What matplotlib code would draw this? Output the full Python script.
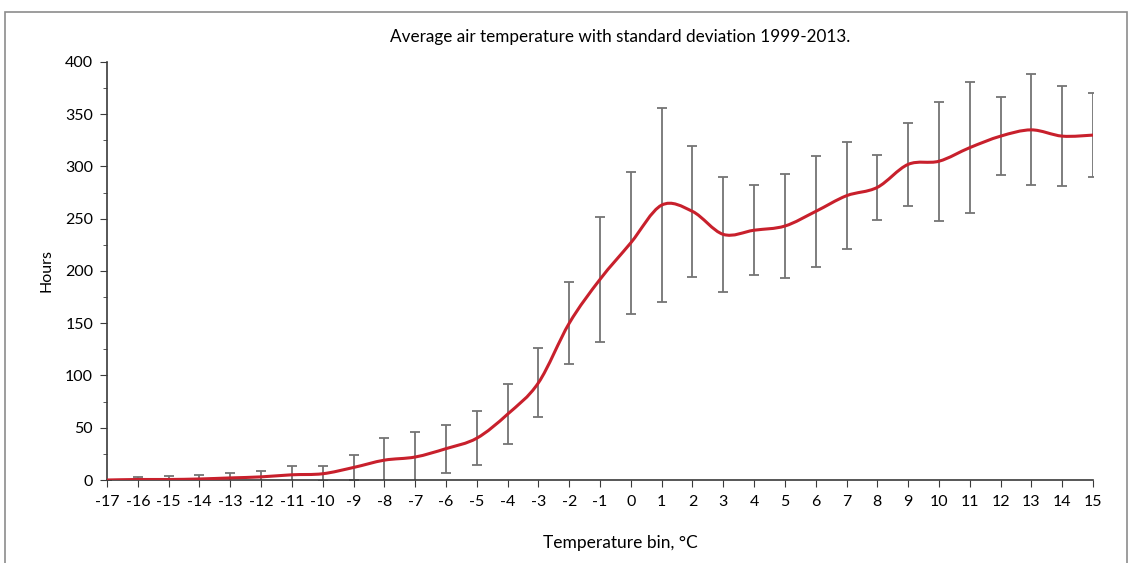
import numpy as np
import matplotlib
matplotlib.use("Agg")
import matplotlib.pyplot as plt
from matplotlib.path import Path
from matplotlib.patches import PathPatch, Rectangle
from matplotlib.ticker import MultipleLocator

plt.rcParams['font.family'] = ['Lato', 'DejaVu Sans']

# temperature bins (deg C)
bins = list(range(-17, 16))
# mean hours per bin
hours = [0, 0.5, 0.5, 1, 2, 3, 5, 6, 12, 19, 22, 30, 40, 63, 93, 150, 192,
         227, 263, 257, 235, 239, 243, 257, 272, 280, 302, 305, 318, 329, 335, 329, 330]
# standard deviation per bin
std = [0, 2, 3, 4, 5, 6, 8, 7, 12, 21, 24, 23, 26, 29, 33, 39, 60,
       68, 93, 63, 55, 43, 50, 53, 51, 31, 40, 57, 63, 37, 53, 48, 40]

fig = plt.figure(figsize=(11.3, 5.63), dpi=100)
ax = fig.add_axes([0.0947, 0.1474, 0.8726, 0.7426])

# grey frame round the whole chart
fig.patches.append(Rectangle((5/1130, -0.05), 1122/1130, 1.05 - 12/563,
                             transform=fig.transFigure, fill=False,
                             edgecolor='#8c8c8c', lw=1.2, clip_on=False))

ax.errorbar(bins, hours, yerr=std, fmt='none', ecolor='#747474', elinewidth=1.3,
            capsize=3.5, capthick=1.3, zorder=2)

# smoothed line, excel style (bezier through the points)
def smooth_path(xs, ys):
    pts = np.column_stack([xs, ys]).astype(float)
    n = len(pts)
    verts = [pts[0]]
    codes = [Path.MOVETO]
    for i in range(n - 1):
        p0 = pts[i - 1] if i > 0 else pts[i]
        p1 = pts[i]
        p2 = pts[i + 1]
        p3 = pts[i + 2] if i + 2 < n else pts[i + 1]
        c1 = p1 + (p2 - p0) / 6
        c2 = p2 - (p3 - p1) / 6
        verts += [c1, c2, p2]
        codes += [Path.CURVE4] * 3
    return Path(verts, codes)

ax.add_patch(PathPatch(smooth_path(bins, hours), fill=False, edgecolor='#c8202c',
                       lw=2.2, zorder=3, capstyle='round'))

ax.set_xlim(-17, 15)
ax.set_ylim(0, 400)
ax.set_xticks(bins)
ax.set_xticklabels([str(b) for b in bins])
ax.yaxis.set_major_locator(MultipleLocator(50))
ax.yaxis.set_minor_locator(MultipleLocator(25))

for s in ['top', 'right']:
    ax.spines[s].set_visible(False)
for s in ['left', 'bottom']:
    ax.spines[s].set_color('#3a3a3a')
    ax.spines[s].set_linewidth(1.2)
ax.tick_params(axis='both', which='both', direction='out', color='#3a3a3a', labelsize=11.5)
ax.tick_params(axis='x', length=5, pad=6)
ax.tick_params(axis='y', which='major', length=5, pad=5)
ax.tick_params(axis='y', which='minor', length=3)

fig.text(620/1130, 1 - 37/563, "Average air temperature with standard deviation 1999-2013.",
         ha='center', va='center', fontsize=12.3)
fig.text(620/1130, 1 - 543/563, "Temperature bin, °C", ha='center', va='center', fontsize=12.5)
fig.text(47/1130, 1 - 270/563, "Hours", ha='center', va='center', rotation=90, fontsize=11.5)

fig.savefig("out.png", dpi=100)
